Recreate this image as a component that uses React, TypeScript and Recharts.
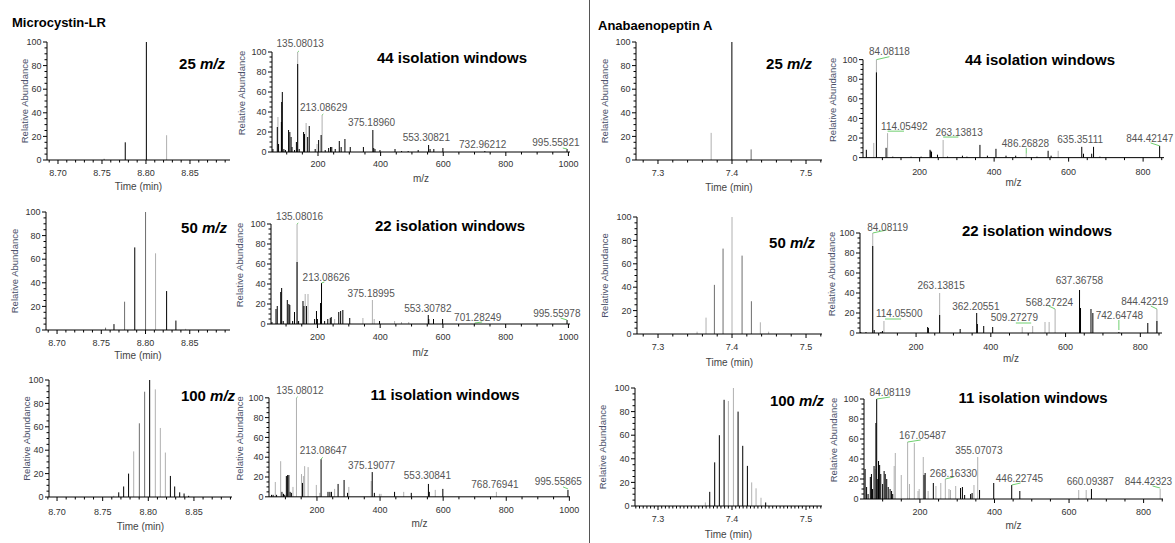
import React from 'react'
import { ComposedChart, Bar, Scatter, XAxis, YAxis, ReferenceLine } from 'recharts'

type Peak = [number, number]
type Tag = { text: string; at: number; ly: number; g?: [number, number, number, number] }

// ---- chromatograms (time, relative abundance) ----
const mcChrom25Dark: Peak[] = [[8.776, 15], [8.8, 100]]
const mcChrom25Mid: Peak[] = [[8.752, 1]]
const mcChrom25Light: Peak[] = [[8.823, 21]]

const mcChrom50Dark: Peak[] = [[8.764, 5], [8.7875, 70], [8.8235, 33], [8.834, 8]]
const mcChrom50Mid: Peak[] = [[8.7545, 2], [8.776, 24], [8.7997, 100]]
const mcChrom50Light: Peak[] = [[8.811, 65], [8.845, 1]]

const mcChrom100Dark: Peak[] = [[8.7672, 4], [8.7726, 9], [8.778, 20], [8.8011, 100], [8.8238, 18], [8.8285, 9], [8.834, 4], [8.8388, 3], [8.8438, 1]]
const mcChrom100Mid: Peak[] = [[8.7898, 63], [8.7956, 90]]
const mcChrom100Light: Peak[] = [[8.7617, 1], [8.7836, 39], [8.8073, 92], [8.8128, 59], [8.8183, 38]]

const apChrom25Dark: Peak[] = [[7.4, 100]]
const apChrom25Mid: Peak[] = [[7.426, 9]]
const apChrom25Light: Peak[] = [[7.372, 23]]

const apChrom50Dark: Peak[] = []
const apChrom50Mid: Peak[] = [[7.3757, 42], [7.3874, 73], [7.4131, 67], [7.4257, 28]]
const apChrom50Light: Peak[] = [[7.3523, 2], [7.3644, 14], [7.3995, 100], [7.4378, 10], [7.449, 2]]

const apChrom100Dark: Peak[] = [[7.3694, 12], [7.3761, 37], [7.3824, 60], [7.3888, 90], [7.4077, 80], [7.414, 51], [7.4203, 34], [7.445, 3]]
const apChrom100Mid: Peak[] = []
const apChrom100Light: Peak[] = [[7.3635, 3], [7.3946, 89], [7.4014, 100], [7.4261, 20], [7.432, 15], [7.4387, 7]]

// ---- MS/MS spectra (m/z, relative abundance) ----
const mcMs44Dark: Peak[] = [[56, 3], [70, 25], [74, 8], [83, 30], [84, 50], [86, 60], [91, 3], [96, 2], [106, 22], [110, 20], [114, 15], [117, 5], [125, 2], [131, 10], [135.08, 88], [140, 3], [154, 20], [157, 18], [167, 15], [172, 26], [191, 3], [202, 12], [210, 17], [223, 2], [234, 4], [240, 5], [244, 5], [255, 3], [268, 11], [274, 5], [286, 13], [303, 5], [345, 5], [375.19, 22], [378, 4], [382, 3], [398, 2], [446, 3], [467, 1], [488, 1], [520, 2], [553.31, 7], [558, 3], [570, 3], [599, 4], [732.96, 1], [995.56, 3]]
const mcMs44Light: Peak[] = [[72, 35], [135.08, 100], [162, 29], [197, 8], [213.09, 37]]

const mcMs22Dark: Peak[] = [[55, 2], [68, 15], [72, 18], [83, 32], [86, 36], [91, 3], [104, 24], [109, 20], [112, 19], [121, 3], [127, 12], [135.08, 62], [140, 3], [154, 23], [157, 18], [165, 18], [191, 5], [197, 13], [200, 5], [210, 21], [213.09, 41], [223, 3], [233, 5], [241, 6], [244, 7], [268, 12], [274, 13], [281, 14], [303, 6], [398, 3], [553.31, 9], [555, 5], [570, 5], [599, 5], [995.56, 4]]
const mcMs22Light: Peak[] = [[135.08, 100], [161, 30], [170, 30], [255, 5], [345, 6], [375.19, 24], [381, 5], [446, 3], [468, 2], [491, 2], [701.28, 1]]

const mcMs11Dark: Peak[] = [[56, 2], [61, 2], [72, 2], [89, 5], [94, 3], [98, 2], [103, 21], [107, 22], [111, 22], [115, 5], [119, 4], [154, 14], [213.09, 38], [235, 5], [241, 5], [246, 5], [267, 13], [286, 17], [297, 4], [375.19, 25], [382, 4], [446, 5], [499, 4], [553.31, 13], [556, 5], [599, 8], [995.56, 7]]
const mcMs11Light: Peak[] = [[68, 15], [85, 36], [124, 10], [135.08, 100], [151, 23], [157, 21], [161, 31], [172, 30], [198, 12], [209, 4], [256, 8], [301, 10], [372, 16], [398, 3], [403, 3], [475, 5], [575, 7], [768.77, 5]]

const apMs44Dark: Peak[] = [[57, 8], [84.08, 87], [110, 10], [128, 1], [177, 1], [204, 1], [228, 8], [230, 7], [232, 6], [248, 3], [275, 1], [315, 2], [327, 1], [362, 13], [382, 2], [405, 9], [432, 2], [458, 2], [515, 1], [545, 7], [553, 2], [635.35, 11], [640, 4], [662, 4], [667, 11], [684, 1], [844.42, 12]]
const apMs44Light: Peak[] = [[77, 15], [84.08, 100], [114.05, 25], [263.14, 18], [486.27, 4], [572, 7]]

const apMs22Dark: Peak[] = [[52, 1], [66, 1], [84.08, 87], [88, 3], [106, 1], [110, 2], [231, 6], [233, 5], [263.14, 18], [318, 4], [362.21, 20], [364, 9], [381, 7], [405, 6], [637.37, 43], [640, 25], [668, 24], [673, 20], [742.65, 1], [820, 10], [844.42, 12]]
const apMs22Light: Peak[] = [[84.08, 100], [114.06, 12], [263.14, 40], [484, 6], [512, 7], [545, 11], [556, 11], [572, 24], [844.42, 24]]

const apMs11Dark: Peak[] = [[53, 30], [57, 12], [61, 5], [67, 22], [70, 25], [73, 10], [77, 33], [82, 76], [84.08, 100], [87, 20], [89, 38], [92, 34], [95, 25], [100, 15], [104, 28], [107, 25], [111, 20], [115, 12], [120, 10], [124, 8], [127, 5], [211, 24], [214, 26], [236, 16], [309, 11], [314, 12], [320, 4], [336, 5], [340, 6], [360, 9], [398, 16], [446.23, 14], [468, 8], [660.09, 10]]
const apMs11Light: Peak[] = [[80, 30], [131, 33], [134, 46], [150, 24], [167.05, 57], [172, 15], [185, 56], [195, 8], [198, 10], [209, 42], [222, 8], [243, 13], [256, 16], [268.16, 20], [278, 10], [282, 9], [296, 13], [345, 14], [355.07, 42], [626, 9], [646, 9], [844.42, 10]]

// ---- peak annotations: text, label centre (m/z, abundance), green leader ----
const mcMs44Tags: Tag[] = [
  { text: '135.08013', at: 143, ly: 109, g: [135.08, 100, 139, 101] },
  { text: '213.08629', at: 218, ly: 45, g: [213.09, 37, 217, 38] },
  { text: '375.18960', at: 371, ly: 30 },
  { text: '553.30821', at: 546, ly: 15 },
  { text: '732.96212', at: 726, ly: 8 },
  { text: '995.55821', at: 960, ly: 10, g: [995.56, 3, 982, 4] },
]
const mcMs22Tags: Tag[] = [
  { text: '135.08016', at: 143, ly: 108, g: [135.08, 100, 139, 101] },
  { text: '213.08626', at: 228, ly: 47, g: [213.09, 41, 222, 42] },
  { text: '375.18995', at: 371, ly: 31 },
  { text: '553.30782', at: 552, ly: 16 },
  { text: '701.28249', at: 711, ly: 7, g: [701.28, 1, 725, 2] },
  { text: '995.55978', at: 963, ly: 11, g: [995.56, 4, 975, 6] },
]
const mcMs11Tags: Tag[] = [
  { text: '135.08012', at: 146, ly: 107, g: [135.08, 100, 139, 101] },
  { text: '213.08647', at: 220, ly: 46.5, g: [213.09, 38, 218, 40] },
  { text: '375.19077', at: 373, ly: 32 },
  { text: '553.30841', at: 550, ly: 22 },
  { text: '768.76941', at: 764, ly: 12 },
  { text: '995.55865', at: 965, ly: 15, g: [995.56, 8, 980, 10] },
]
const apMs44Tags: Tag[] = [
  { text: '84.08118', at: 119, ly: 108.5, g: [84.08, 100, 119, 103] },
  { text: '114.05492', at: 159, ly: 32, g: [114.05, 27, 158, 27] },
  { text: '263.13813', at: 306, ly: 26, g: [263.14, 21, 304, 21] },
  { text: '486.26828', at: 484, ly: 14.5, g: [486.27, 4, 486.27, 10] },
  { text: '635.35111', at: 631, ly: 19 },
  { text: '844.42147', at: 818, ly: 20, g: [820, 15, 844.42, 12] },
]
const apMs22Tags: Tag[] = [
  { text: '84.08119', at: 124, ly: 106, g: [84.08, 100, 121, 103] },
  { text: '114.05500', at: 155, ly: 20, g: [117, 14, 160, 14] },
  { text: '263.13815', at: 267, ly: 48 },
  { text: '362.20551', at: 360, ly: 27 },
  { text: '509.27279', at: 463, ly: 16, g: [467, 10, 508, 10] },
  { text: '568.27224', at: 557, ly: 31, g: [572, 24, 555, 27] },
  { text: '637.36758', at: 637, ly: 53 },
  { text: '742.64748', at: 744, ly: 18, g: [742.65, 3, 742.65, 13] },
  { text: '844.42219', at: 812, ly: 32, g: [828, 27, 844.42, 24] },
]
const apMs11Tags: Tag[] = [
  { text: '84.08119', at: 120, ly: 107, g: [84.08, 100, 120, 102] },
  { text: '167.05487', at: 207, ly: 64, g: [167.05, 57, 202, 59] },
  { text: '268.16330', at: 290, ly: 26, g: [268.16, 20, 290, 22] },
  { text: '355.07073', at: 358, ly: 49 },
  { text: '446.22745', at: 467, ly: 21, g: [446.23, 14, 470, 16] },
  { text: '660.09387', at: 657, ly: 17.5 },
  { text: '844.42323', at: 813, ly: 17.5, g: [824, 13, 844.42, 11] },
]

// ---- axis ticks ----
const mcTimeMajors = [8.7, 8.75, 8.8, 8.85]
const apTimeMajors = [7.3, 7.4, 7.5]
const mzMajors = [200, 400, 600, 800, 1000]
const abundanceMajors = [0, 20, 40, 60, 80, 100]

const FONT = '"Liberation Sans", Arial, Helvetica, sans-serif'
const TONE: Record<string, string> = { dark: '#000000', mid: '#6e6e6e', light: '#b0b0b0' }

function steps(a: number, b: number, step: number) {
  const n = Math.round((b - a) / step)
  const out: number[] = []
  for (let i = 0; i <= n; i++) out.push(+(a + i * step).toFixed(4))
  return out
}
const yTicks = steps(0, 100, 5)

function rowsOf(dark: Peak[], mid: Peak[], light: Peak[]) {
  return [
    ...light.map(([mz, ab]) => ({ mz, ab, tone: 'light' })),
    ...mid.map(([mz, ab]) => ({ mz, ab, tone: 'mid' })),
    ...dark.map(([mz, ab]) => ({ mz, ab, tone: 'dark' })),
  ]
}

const Stick = (p: any) => {
  const { x, y, width, height, payload } = p
  if (!(height > 0)) return null
  const cx = x + width / 2
  return <rect x={cx - 0.5} y={y} width={1} height={height} fill={TONE[payload.tone]} />
}

const TagText = (p: any) => (
  <text x={p.cx} y={p.cy} dy="0.35em" textAnchor="middle" fontSize={10} fill="#555" fontFamily={FONT}>
    {p.payload.text}
  </text>
)

const YTick = ({ x, y, payload }: any) => {
  const v = payload.value
  const major = abundanceMajors.includes(v)
  return (
    <g>
      <line x1={x - (major ? 4 : 2.5)} x2={x} y1={y} y2={y} stroke="#000" />
      {major && (
        <text x={x - 5.5} y={y} dy="0.35em" textAnchor="end" fontSize={9} fill="#333" fontFamily={FONT}>
          {v}
        </text>
      )}
    </g>
  )
}

const XTick = ({ x, y, payload, majors, digits, dy }: any) => {
  const v = payload.value
  const major = majors.some((m: number) => Math.abs(m - v) < 1e-6)
  return (
    <g>
      <line x1={x} x2={x} y1={y} y2={y + (major ? 4 : 2.5)} stroke="#000" />
      {major && (
        <text x={x} y={y + dy} dy="0.35em" textAnchor="middle" fontSize={9} fill="#333" fontFamily={FONT}>
          {v.toFixed(digits)}
        </text>
      )}
    </g>
  )
}

type Geo = { left: number; right: number; y100: number; y0: number; titleX: number; tickDy: number; titleDy: number }

function Panel({ geo, domain, ticks, majors, digits, rows, tags, xTitle, yMax }: {
  geo: Geo; domain: [number, number]; ticks: number[]; majors: number[]; digits: number
  rows: any[]; tags?: Tag[]; xTitle: string; yMax: number
}) {
  const k = (geo.y0 - geo.y100) / 100
  const plotTop = geo.y0 - yMax * k
  const yw = 2 * (geo.left - geo.titleX)
  const xh = geo.titleDy + 3.5
  const mt = 8
  const mr = 16
  const width = yw + (geo.right - geo.left) + mr
  const height = mt + (geo.y0 - plotTop) + xh + 2
  const tagRows = (tags || []).map((t) => ({ mz: t.at, ab: t.ly, text: t.text }))
  return (
    <div style={{ position: 'absolute', left: geo.left - yw, top: plotTop - mt, width, height }}>
      <ComposedChart width={width} height={height} data={rows} margin={{ top: mt, right: mr, bottom: 2, left: 0 }}>
        <XAxis
          type="number"
          dataKey="mz"
          domain={domain}
          ticks={ticks}
          interval={0}
          height={xh}
          tickSize={0}
          tickMargin={0}
          tickLine={false}
          axisLine={{ stroke: '#000' }}
          tick={<XTick majors={majors} digits={digits} dy={geo.tickDy} />}
          label={{ value: xTitle, position: 'insideBottom', offset: 0, fontSize: 10, fill: '#444' }}
        />
        <YAxis
          type="number"
          domain={[0, yMax]}
          ticks={yTicks}
          interval={0}
          width={yw}
          tickSize={0}
          tickMargin={0}
          tickLine={false}
          axisLine={false}
          tick={<YTick />}
          label={{ value: 'Relative Abundance', angle: -90, position: 'center', fontSize: 9.5, fill: '#4a5068' }}
        />
        <ReferenceLine segment={[{ x: domain[0], y: 0 }, { x: domain[0], y: 100 }]} stroke="#000" />
        <Bar dataKey="ab" barSize={1} shape={Stick} isAnimationActive={false} />
        {tags && <Scatter data={tagRows} dataKey="ab" shape={TagText} isAnimationActive={false} />}
        {(tags || [])
          .filter((t) => t.g)
          .map((t, i) => (
            <ReferenceLine
              key={i}
              segment={[{ x: t.g![0], y: t.g![1] }, { x: t.g![2], y: t.g![3] }]}
              stroke="#6fcf6f"
              strokeWidth={1}
            />
          ))}
      </ComposedChart>
    </div>
  )
}

const Note = ({ x, y, n, text }: { x: number; y: number; n: string; text?: string }) => (
  <div style={{ position: 'absolute', left: x, top: y, transform: 'translate(-50%, -50%)', fontSize: 15, fontWeight: 'bold', whiteSpace: 'nowrap', lineHeight: 1 }}>
    {n} {text ? text : <i>m/z</i>}
  </div>
)

const mcTicks = steps(8.69, 8.89, 0.01)
const apTicks = steps(7.28, 7.52, 0.02)
const apTicksFine = steps(7.27, 7.52, 0.005)
const mcMzTicks = steps(100, 1000, 50)
const apMzTicks = steps(100, 850, 50)

export default function App() {
  return (
    <div style={{ position: 'absolute', left: 0, top: 0, width: 1175, height: 543, overflow: 'hidden', background: '#fff', fontFamily: FONT, color: '#000' }}>
      <div style={{ position: 'absolute', left: 12, top: 22, transform: 'translateY(-50%)', fontSize: 13, fontWeight: 'bold' }}>Microcystin-LR</div>
      <div style={{ position: 'absolute', left: 598, top: 25, transform: 'translateY(-50%)', fontSize: 13, fontWeight: 'bold' }}>Anabaenopeptin A</div>
      <div style={{ position: 'absolute', left: 589, top: 0, width: 1, height: 543, background: '#555' }} />

      {/* Microcystin-LR chromatograms */}
      <Panel geo={{ left: 47, right: 230, y100: 42, y0: 160, titleX: 25, tickDy: 13, titleDy: 26 }} domain={[8.6875, 8.8955]} ticks={mcTicks} majors={mcTimeMajors} digits={2} rows={rowsOf(mcChrom25Dark, mcChrom25Mid, mcChrom25Light)} xTitle="Time (min)" yMax={100} />
      <Panel geo={{ left: 46, right: 230, y100: 212, y0: 330, titleX: 15, tickDy: 13, titleDy: 25 }} domain={[8.6875, 8.8955]} ticks={mcTicks} majors={mcTimeMajors} digits={2} rows={rowsOf(mcChrom50Dark, mcChrom50Mid, mcChrom50Light)} xTitle="Time (min)" yMax={100} />
      <Panel geo={{ left: 49, right: 232, y100: 380, y0: 497, titleX: 27, tickDy: 15, titleDy: 29 }} domain={[8.6912, 8.8917]} ticks={mcTicks} majors={mcTimeMajors} digits={2} rows={rowsOf(mcChrom100Dark, mcChrom100Mid, mcChrom100Light)} xTitle="Time (min)" yMax={100} />

      {/* Microcystin-LR spectra */}
      <Panel geo={{ left: 272, right: 570, y100: 52, y0: 152, titleX: 242, tickDy: 12, titleDy: 26 }} domain={[53, 1005]} ticks={mcMzTicks} majors={mzMajors} digits={0} rows={rowsOf(mcMs44Dark, [], mcMs44Light)} tags={mcMs44Tags} xTitle="m/z" yMax={118} />
      <Panel geo={{ left: 271, right: 570, y100: 224, y0: 324, titleX: 240, tickDy: 13, titleDy: 28 }} domain={[52, 1005]} ticks={mcMzTicks} majors={mzMajors} digits={0} rows={rowsOf(mcMs22Dark, [], mcMs22Light)} tags={mcMs22Tags} xTitle="m/z" yMax={118} />
      <Panel geo={{ left: 269, right: 570, y100: 398, y0: 497, titleX: 240, tickDy: 13, titleDy: 27 }} domain={[48, 1002]} ticks={mcMzTicks} majors={mzMajors} digits={0} rows={rowsOf(mcMs11Dark, [], mcMs11Light)} tags={mcMs11Tags} xTitle="m/z" yMax={118} />

      {/* Anabaenopeptin A chromatograms */}
      <Panel geo={{ left: 636, right: 822, y100: 42, y0: 160, titleX: 605, tickDy: 13, titleDy: 27 }} domain={[7.2703, 7.5216]} ticks={apTicks} majors={apTimeMajors} digits={1} rows={rowsOf(apChrom25Dark, apChrom25Mid, apChrom25Light)} xTitle="Time (min)" yMax={100} />
      <Panel geo={{ left: 637, right: 822, y100: 217, y0: 334, titleX: 605, tickDy: 13, titleDy: 28 }} domain={[7.2716, 7.5216]} ticks={apTicks} majors={apTimeMajors} digits={1} rows={rowsOf(apChrom50Dark, apChrom50Mid, apChrom50Light)} xTitle="Time (min)" yMax={100} />
      <Panel geo={{ left: 635, right: 822, y100: 388, y0: 506, titleX: 603, tickDy: 13, titleDy: 28 }} domain={[7.2689, 7.5216]} ticks={apTicksFine} majors={apTimeMajors} digits={1} rows={rowsOf(apChrom100Dark, apChrom100Mid, apChrom100Light)} xTitle="Time (min)" yMax={100} />

      {/* Anabaenopeptin A spectra */}
      <Panel geo={{ left: 863, right: 1164, y100: 60, y0: 158, titleX: 833, tickDy: 14, titleDy: 25 }} domain={[48, 856]} ticks={apMzTicks} majors={mzMajors} digits={0} rows={rowsOf(apMs44Dark, [], apMs44Light)} tags={apMs44Tags} xTitle="m/z" yMax={118} />
      <Panel geo={{ left: 860, right: 1162, y100: 233, y0: 333, titleX: 832, tickDy: 14, titleDy: 25 }} domain={[50, 858]} ticks={apMzTicks} majors={mzMajors} digits={0} rows={rowsOf(apMs22Dark, [], apMs22Light)} tags={apMs22Tags} xTitle="m/z" yMax={118} />
      <Panel geo={{ left: 864, right: 1163, y100: 399, y0: 499, titleX: 834, tickDy: 13, titleDy: 26 }} domain={[50, 852]} ticks={apMzTicks} majors={mzMajors} digits={0} rows={rowsOf(apMs11Dark, [], apMs11Light)} tags={apMs11Tags} xTitle="m/z" yMax={118} />

      {/* panel notes */}
      <Note x={202} y={63} n="25" />
      <Note x={204} y={227} n="50" />
      <Note x={208} y={395} n="100" />
      <Note x={452} y={57} n="44" text="isolation windows" />
      <Note x={450} y={225} n="22" text="isolation windows" />
      <Note x={445} y={394} n="11" text="isolation windows" />
      <Note x={789} y={63} n="25" />
      <Note x={792} y={242} n="50" />
      <Note x={797} y={400} n="100" />
      <Note x={1040} y={59} n="44" text="isolation windows" />
      <Note x={1037} y={230} n="22" text="isolation windows" />
      <Note x={1033} y={397} n="11" text="isolation windows" />
    </div>
  )
}
